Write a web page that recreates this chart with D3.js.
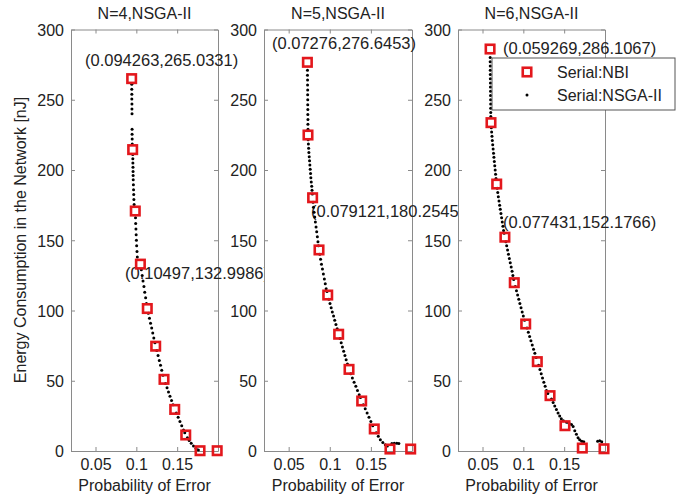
<!DOCTYPE html>
<html>
<head>
<meta charset="utf-8">
<script src="https://cdn.jsdelivr.net/npm/d3@7"></script>
<style>
  html, body { margin: 0; padding: 0; background: #fff; }
  svg { display: block; }
  text { font-family: "Liberation Sans", Arial, Helvetica, sans-serif; }
</style>
</head>
<body>
<svg id="chart" width="679" height="498"></svg>
<script>
// ---- data ----
const panelTitles = ["N=4,NSGA-II", "N=5,NSGA-II", "N=6,NSGA-II"];
const xTicks = [0.05, 0.1, 0.15];
const yTicks = [0, 50, 100, 150, 200, 250, 300];
const xLabel = "Probability of Error";
const yLabel = "Energy Consumption in the Network [nJ]";
const legendLabels = ["Serial:NBI", "Serial:NSGA-II"];

// NBI solutions [probability of error, energy]
const nbiN4 = [[0.094263,265.0331],[0.0955,214.5],[0.0987,170.8],[0.10497,132.9986],[0.1134,101.4],
  [0.1237,74.6],[0.1339,51.0],[0.1470,29.6],[0.1605,11.4],[0.1780,0.2],[0.1990,0.2]];
const nbiN5 = [[0.07276,276.6453],[0.0735,224.9],[0.079121,180.2545],[0.0869,143.1],[0.0975,111.0],
  [0.1108,83.1],[0.1234,58.1],[0.1388,35.6],[0.1541,15.7],[0.1732,1.4],[0.1984,1.4]];
const nbiN6 = [[0.059269,286.1067],[0.0604,233.7],[0.0674,190.0],[0.077431,152.1766],[0.0889,119.8],
  [0.1029,90.4],[0.1171,63.6],[0.1327,39.4],[0.1510,18.0],[0.1722,2.1],[0.1988,1.6]];

// NSGA-II population [probability of error, energy]
const nsgaN4 = [[0.0944,261],[0.0944,257.5],[0.0945,254],[0.0945,250.5],[0.0946,247],[0.0946,243.5],[0.0947,240],
  [0.0948,229],[0.0948,225.5],[0.0949,222],[0.0950,218.5],
  [0.0956,211],[0.0957,208],[0.0958,205],[0.0959,202],[0.0960,199],[0.0961,196],[0.0962,193],[0.0964,189.5],
  [0.0966,186],[0.0968,182.5],[0.0970,179],[0.0973,175.5],
  [0.0990,166],[0.0992,162],[0.0995,158],[0.0998,154],[0.1001,150],[0.1004,146],[0.1008,142],[0.1012,138],
  [0.1061,129],[0.1072,125],[0.1082,121],[0.1093,117],[0.1103,113],[0.1114,109],[0.1124,105],
  [0.1147,98],[0.1161,94.5],[0.1174,91],[0.1188,87.5],[0.1201,84],[0.1214,80.5],[0.1228,77],
  [0.1250,71.5],[0.1266,68],[0.1281,64.5],[0.1296,61],[0.1311,57.5],[0.1326,54],
  [0.1357,48],[0.1376,45],[0.1394,42],[0.1412,39],[0.1431,36],[0.1449,33],
  [0.1489,27],[0.1512,24],[0.1534,21],[0.1556,18],[0.1578,15],[0.1593,13],
  [0.1625,9.5],[0.1647,7.5],[0.1672,5.5],[0.1700,3.5],[0.1730,2],[0.1760,0.8]];
const nsgaN5 = [[0.0729,271],[0.0729,267.5],[0.0730,264],[0.0730,260.5],[0.0731,257],[0.0731,253.5],[0.0732,250],
  [0.0732,246.5],[0.0733,243],[0.0733,239.5],[0.0734,236],[0.0734,232.5],[0.0735,229],
  [0.0737,221.5],[0.0740,218.5],[0.0743,215.5],[0.0746,212.5],[0.0750,209.5],[0.0754,206.5],[0.0758,203.5],
  [0.0762,200.5],[0.0766,197.5],[0.0770,194.5],[0.0775,191.5],[0.0780,188.5],[0.0784,185.5],[0.0788,183],
  [0.0797,177],[0.0802,173.5],[0.0809,170],[0.0817,166.5],[0.0825,163],[0.0833,159.5],[0.0841,156],
  [0.0849,152.5],[0.0856,149],[0.0862,146],
  [0.0878,140],[0.0888,136.5],[0.0899,133],[0.0911,129.5],[0.0922,126],[0.0934,122.5],[0.0945,119],
  [0.0956,115.5],[0.0966,113.5],
  [0.0989,108],[0.1003,105],[0.1017,102],[0.1031,99],[0.1046,96],[0.1060,93],[0.1075,90],[0.1090,87],
  [0.1124,80],[0.1139,77],[0.1154,74],[0.1169,71],[0.1184,68],[0.1199,65],[0.1215,62],
  [0.1255,55],[0.1275,52],[0.1296,49],[0.1317,46],[0.1337,43],[0.1358,40],[0.1373,38],
  [0.1408,33],[0.1431,30],[0.1454,27],[0.1477,24],[0.1500,21],[0.1523,18],
  [0.1565,13],[0.1590,10.5],[0.1615,8],[0.1645,6],[0.1675,4.5],[0.1700,3.5],
  [0.1755,5.3],[0.1785,5.5],[0.1815,5.5],[0.1840,5.4]];
const nsgaN6 = [[0.0594,280],[0.0594,277],[0.0595,274],[0.0595,271],[0.0596,268],[0.0596,265],[0.0597,262],
  [0.0597,259],[0.0598,256],[0.0598,253],[0.0599,250],[0.0600,247],[0.0600,244],[0.0601,241],[0.0602,238],
  [0.0608,230],[0.0612,227],[0.0616,224],[0.0620,221],[0.0625,218],[0.0630,215],[0.0635,212],[0.0640,209],
  [0.0645,206],[0.0650,203],[0.0655,200],[0.0660,197],[0.0665,194],
  [0.0680,187],[0.0687,184],[0.0694,181],[0.0702,178],[0.0710,175],[0.0718,172],[0.0726,169],[0.0734,166],
  [0.0742,163],[0.0750,160],[0.0758,157],[0.0765,155],
  [0.0786,149],[0.0796,146],[0.0807,143],[0.0818,140],[0.0829,137],[0.0840,134],[0.0851,131],[0.0862,128],
  [0.0872,125],[0.0882,122],
  [0.0902,117],[0.0916,114],[0.0930,111],[0.0944,108],[0.0958,105],[0.0972,102],[0.0986,99],[0.1000,96],[0.1015,93],
  [0.1045,87.5],[0.1061,84.5],[0.1077,81.5],[0.1093,78.5],[0.1109,75.5],[0.1125,72.5],[0.1141,69.5],[0.1157,66.5],
  [0.1187,61],[0.1203,58],[0.1219,55],[0.1235,52],[0.1251,49],[0.1267,46],[0.1283,43],[0.1300,41],
  [0.1345,37],[0.1365,34.5],[0.1385,32],[0.1405,29.5],[0.1425,27],[0.1445,25],[0.1465,23],[0.1490,21.5],
  [0.1530,20.5],[0.1560,19.8],[0.1590,18.8],[0.1610,17.5],[0.1630,14.5],[0.1650,12],[0.1670,9.5],
  [0.1690,8],[0.1715,7],[0.1740,6.5],
  [0.1910,7],[0.1935,7.3],[0.1960,6.5]];

// data tips shown on each panel: [x, y] of the tipped point
const tipsN4 = [[0.094263,265.0331],[0.10497,132.9986]];
const tipsN5 = [[0.07276,276.6453],[0.079121,180.2545]];
const tipsN6 = [[0.059269,286.1067],[0.077431,152.1766]];

// ---- layout ----
const svg = d3.select("#chart");
const plotTop = 29.5, plotBottom = 451;
const panelLeft = [71, 264, 458];
const panelWidth = [147, 148, 147];
// tip label anchor offsets (pixels from the panel's left edge, baseline y)
const tipPos = [
  [[14, 66], [54, 279]],
  [[8, 49], [47, 216.5]],
  [[45, 54], [45, 227.5]]
];
const axisColor = "#8a8a8a";
const textColor = "#222";
const red = "#e3171c";
const fontSize = 16;
const tipFontSize = 16.5;

const panels = [
  { title: panelTitles[0], nbi: nbiN4, nsga: nsgaN4, tips: tipsN4 },
  { title: panelTitles[1], nbi: nbiN5, nsga: nsgaN5, tips: tipsN5 },
  { title: panelTitles[2], nbi: nbiN6, nsga: nsgaN6, tips: tipsN6 }
];

const fmt = d => String(d);

panels.forEach((p, i) => {
  const x0 = panelLeft[i], w = panelWidth[i];
  const x = d3.scaleLinear().domain([0.02, 0.2]).range([x0, x0 + w]);
  const y = d3.scaleLinear().domain([0, 300]).range([plotBottom, plotTop]);
  const g = svg.append("g");

  // axes background (covers anything spilling over from the previous panel)
  g.append("rect").attr("x", x0).attr("y", plotTop).attr("width", w).attr("height", plotBottom - plotTop)
    .attr("fill", "#fff");

  // bottom axis with labels, top axis mirrored ticks
  const ax = g.append("g").attr("transform", `translate(0,${plotBottom})`)
    .call(d3.axisBottom(x).tickValues(xTicks).tickFormat(fmt).tickSizeInner(-4).tickSizeOuter(0).tickPadding(8));
  const axT = g.append("g").attr("transform", `translate(0,${plotTop})`)
    .call(d3.axisTop(x).tickValues(xTicks).tickFormat("").tickSizeInner(-4).tickSizeOuter(0));
  const ay = g.append("g").attr("transform", `translate(${x0},0)`)
    .call(d3.axisLeft(y).tickValues(yTicks).tickFormat(fmt).tickSizeInner(-4).tickSizeOuter(0).tickPadding(7));
  const ayR = g.append("g").attr("transform", `translate(${x0 + w},0)`)
    .call(d3.axisRight(y).tickValues(yTicks).tickFormat("").tickSizeInner(-4).tickSizeOuter(0));
  [ax, axT, ay, ayR].forEach(a => {
    a.select(".domain").attr("stroke", axisColor).attr("stroke-width", 1);
    a.selectAll(".tick line").attr("stroke", axisColor);
    a.selectAll("text").attr("font-size", fontSize).attr("fill", textColor)
      .attr("font-family", '"Liberation Sans", Arial, sans-serif');
  });
  ay.selectAll(".tick text").attr("dy", "0.36em");

  // title and x label
  g.append("text").attr("x", x0 + w / 2).attr("y", 18.5).attr("text-anchor", "middle")
    .attr("font-size", fontSize).attr("fill", textColor).text(p.title);
  g.append("text").attr("x", x0 + w / 2).attr("y", 491).attr("text-anchor", "middle")
    .attr("font-size", fontSize).attr("fill", textColor).text(xLabel);

  // data tip labels
  p.tips.forEach((t, k) => {
    g.append("text").attr("x", x0 + tipPos[i][k][0]).attr("y", tipPos[i][k][1])
      .attr("font-size", tipFontSize).attr("fill", textColor)
      .text(`(${t[0]},${t[1]})`);
  });

  // NSGA-II points
  g.append("g").selectAll("circle").data(p.nsga).join("circle")
    .attr("cx", d => x(d[0])).attr("cy", d => y(d[1])).attr("r", 1.5).attr("fill", "#000");

  // NBI squares
  g.append("g").selectAll("rect").data(p.nbi).join("rect")
    .attr("x", d => x(d[0]) - 4.25).attr("y", d => y(d[1]) - 4.25)
    .attr("width", 8.5).attr("height", 8.5)
    .attr("fill", "none").attr("stroke", red).attr("stroke-width", 2.6);
});

// y label
svg.append("text").attr("transform", "translate(26,240) rotate(-90)")
  .attr("text-anchor", "middle").attr("font-size", fontSize).attr("fill", textColor).text(yLabel);

// legend
const lg = svg.append("g");
lg.append("rect").attr("x", 492).attr("y", 58).attr("width", 183).attr("height", 52)
  .attr("fill", "#fff").attr("stroke", "#555").attr("stroke-width", 1);
lg.append("rect").attr("x", 522.75).attr("y", 67.75).attr("width", 8.5).attr("height", 8.5)
  .attr("fill", "none").attr("stroke", red).attr("stroke-width", 2.6);
lg.append("circle").attr("cx", 527).attr("cy", 95).attr("r", 1.5).attr("fill", "#000");
lg.append("text").attr("x", 557).attr("y", 78).attr("font-size", fontSize).attr("fill", textColor).text(legendLabels[0]);
lg.append("text").attr("x", 557).attr("y", 101).attr("font-size", fontSize).attr("fill", textColor).text(legendLabels[1]);
</script>
</body>
</html>
